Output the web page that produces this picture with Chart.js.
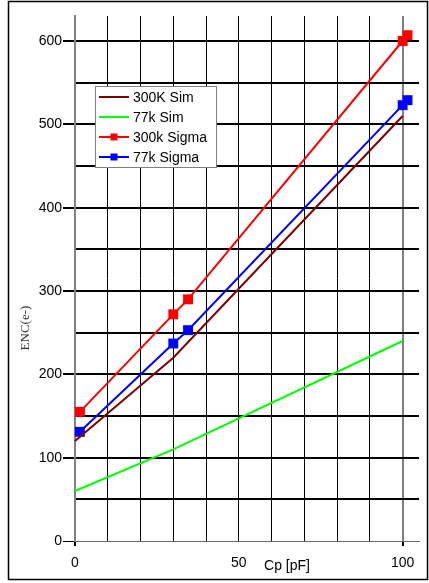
<!DOCTYPE html>
<html>
<head>
<meta charset="utf-8">
<script src="https://cdn.jsdelivr.net/npm/chart.js@4/dist/chart.umd.min.js"></script>
<style>
  body { margin: 0; background: #fff; }
  canvas { display: block; }
</style>
</head>
<body>
<canvas id="enc_chart" width="429" height="583"></canvas>
<script>
// simulated curves (Cp in pF, ENC in electrons)
var cpSim = [0, 30, 100];
var enc300kSim = [120, 220, 510];
var enc77kSim = [60, 110, 240];

// measured sigma points
var cpSigma = [1.5, 30, 34.5, 100, 101.5];
var enc300kSigma = [155, 272, 290, 600, 607];
var enc77kSigma = [131, 237, 253, 523, 529];

var xTickLabels = [0, 50, 100];
var yTickLabels = [0, 100, 200, 300, 400, 500, 600];

function pts(xs, ys) {
  return xs.map(function (x, i) { return { x: x, y: ys[i] }; });
}

// grid every 10 pF / 50 e-, up to the last labelled value
function gridTicks(step, last) {
  var out = [];
  for (var v = 0; v <= last; v += step) out.push({ value: v });
  return out;
}

var FONT = '"Liberation Sans", Arial, sans-serif';

// frame, axis titles and the boxed legend inside the plot
var decor = {
  id: 'decor',
  afterDraw: function (chart) {
    var c = chart.ctx;
    c.save();
    c.strokeStyle = '#000';
    c.lineWidth = 1.5;
    c.strokeRect(8.5, 1.5, 419, 578);

    c.fillStyle = '#333';
    c.font = '13px "Liberation Serif", "Times New Roman", serif';
    c.textAlign = 'center';
    c.textBaseline = 'middle';
    c.translate(26, 328);
    c.rotate(-Math.PI / 2);
    c.fillText('ENC(e-)', 0, 0);
    c.setTransform(chart.currentDevicePixelRatio, 0, 0, chart.currentDevicePixelRatio, 0, 0);

    c.fillStyle = '#000';
    c.font = '14px ' + FONT;
    c.fillText('Cp [pF]', 287, 566);

    // legend
    c.fillStyle = '#fff';
    c.fillRect(95.5, 86.5, 121, 81);
    c.strokeStyle = '#808080';
    c.lineWidth = 1;
    c.strokeRect(95.5, 86.5, 121, 81);
    c.textAlign = 'left';
    chart.data.datasets.forEach(function (ds, i) {
      var y = 97 + 20 * i;
      c.strokeStyle = ds.borderColor;
      c.lineWidth = 2;
      c.beginPath();
      c.moveTo(99, y);
      c.lineTo(129, y);
      c.stroke();
      if (ds.pointRadius > 0) {
        c.fillStyle = ds.borderColor;
        c.fillRect(110.5, y - 3.5, 7, 7);
      }
      c.fillStyle = '#000';
      c.fillText(ds.label, 133, y + 1);
    });
    c.restore();
  }
};

function isEdge(ctx) {
  return ctx.tick && (ctx.tick.value === 0 || ctx.tick.value === 100);
}

new Chart(document.getElementById('enc_chart'), {
  type: 'line',
  data: {
    datasets: [{
      label: '300K Sim',
      data: pts(cpSim, enc300kSim),
      borderColor: '#800000',
      borderWidth: 2,
      pointRadius: 0
    }, {
      label: '77k Sim',
      data: pts(cpSim, enc77kSim),
      borderColor: '#00ff00',
      borderWidth: 2,
      pointRadius: 0
    }, {
      label: '300k Sigma',
      data: pts(cpSigma, enc300kSigma),
      borderColor: '#ff0000',
      backgroundColor: '#ff0000',
      borderWidth: 2,
      pointStyle: 'rect',
      pointRadius: 7,
      pointBorderWidth: 0
    }, {
      label: '77k Sigma',
      data: pts(cpSigma, enc77kSigma),
      borderColor: '#0000ff',
      backgroundColor: '#0000ff',
      borderWidth: 2,
      pointStyle: 'rect',
      pointRadius: 7,
      pointBorderWidth: 0
    }]
  },
  options: {
    responsive: false,
    animation: false,
    clip: false,
    layout: { padding: { left: 0, right: 10, top: 16, bottom: 0 } },
    plugins: { legend: { display: false }, tooltip: { enabled: false } },
    scales: {
      x: {
        type: 'linear',
        min: 0,
        max: 105,
        afterFit: function (s) { s.height = 42; },
        afterBuildTicks: function (s) { s.ticks = gridTicks(10, 100); },
        ticks: {
          padding: 9,
          maxRotation: 0,
          autoSkip: false,
          color: '#000',
          font: { family: FONT, size: 14 },
          callback: function (v) { return xTickLabels.indexOf(v) >= 0 ? String(v) : ''; }
        },
        grid: {
          color: function (ctx) { return isEdge(ctx) ? '#808080' : '#000'; },
          lineWidth: function (ctx) { return isEdge(ctx) ? 2 : 1; },
          tickLength: 5,
          tickColor: function (ctx) { return isEdge(ctx) ? '#000' : 'rgba(0,0,0,0)'; }
        },
        border: { color: '#666', width: 1 }
      },
      y: {
        min: 0,
        max: 630,
        afterFit: function (s) { s.width = 75; },
        afterBuildTicks: function (s) { s.ticks = gridTicks(50, 600); },
        ticks: {
          padding: 1,
          autoSkip: false,
          color: '#000',
          font: { family: FONT, size: 14 },
          callback: function (v) { return yTickLabels.indexOf(v) >= 0 ? String(v) : ''; }
        },
        grid: {
          color: function (ctx) { return (ctx.tick && ctx.tick.value === 0) ? '#666' : '#000'; },
          lineWidth: function (ctx) { return (ctx.tick && ctx.tick.value === 0) ? 1 : 2; },
          tickLength: 12,
          tickColor: function (ctx) { return (ctx.tick && ctx.tick.value % 100 === 0) ? '#000' : 'rgba(0,0,0,0)'; }
        },
        border: { color: '#808080', width: 2 }
      }
    }
  },
  plugins: [decor]
});
</script>
</body>
</html>
